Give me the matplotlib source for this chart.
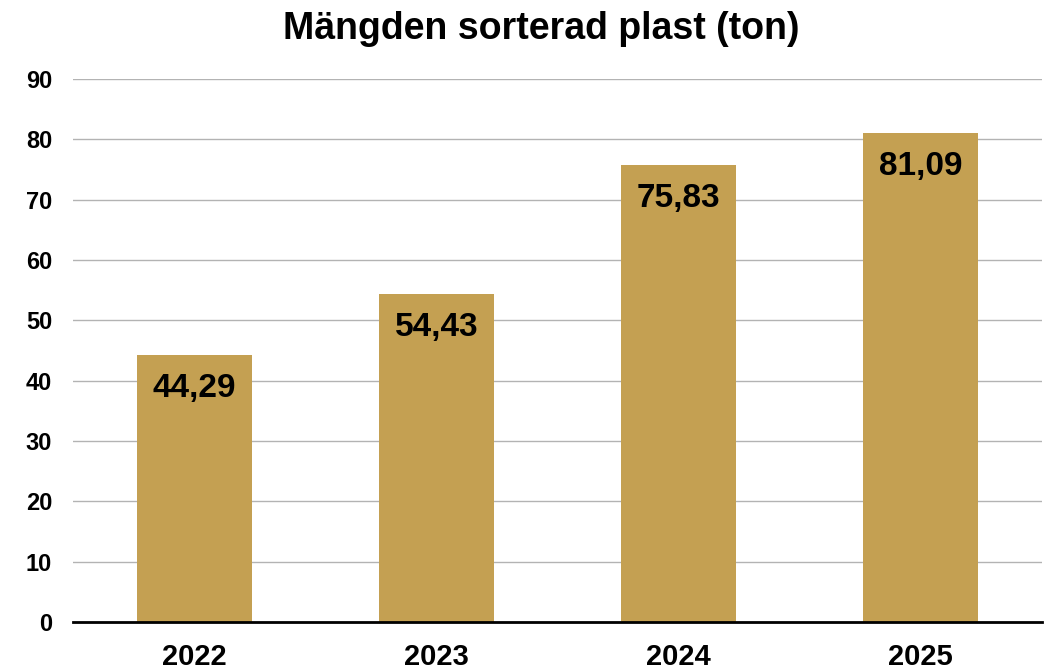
import numpy as np
import matplotlib.pyplot as plt

plt.rcParams['font.family'] = ['Liberation Sans', 'DejaVu Sans']

years = ["2022", "2023", "2024", "2025"]
amounts = [44.29, 54.43, 75.83, 81.09]
labels = ["44,29", "54,43", "75,83", "81,09"]

fig = plt.figure(figsize=(10.48, 6.70), dpi=100)
ax = fig.add_axes([0.0697, 0.0716, 0.9243, 0.8104])

x = np.arange(len(years))
bars = ax.bar(x, amounts, width=0.475, color="#C4A052", zorder=3)

for b, lab in zip(bars, labels):
    ax.annotate(lab, (b.get_x() + b.get_width() / 2, b.get_height()),
                xytext=(0, -13), textcoords="offset points",
                ha="center", va="top", fontsize=24, fontweight="bold", zorder=4)

ax.set_xlim(-0.5, len(years) - 0.5)
ax.set_ylim(0, 90)
ax.set_yticks(np.arange(0, 91, 10))
ax.set_xticks(x)
ax.set_xticklabels(years, fontsize=21, fontweight="bold")
for t in ax.get_yticklabels():
    t.set_fontsize(17)
    t.set_fontweight("bold")
ax.tick_params(axis="both", length=0)
ax.tick_params(axis="y", pad=15)
ax.tick_params(axis="x", pad=15)
ax.grid(axis="y", color="#b3b3b3", lw=1, zorder=0)
for s in ["top", "right", "left"]:
    ax.spines[s].set_visible(False)
ax.spines["bottom"].set_linewidth(2)
ax.spines["bottom"].set_zorder(5)

fig.text(0.516, 0.957, "Mängden sorterad plast (ton)", ha="center", va="center",
         fontsize=27, fontweight="bold")

plt.savefig("out.png", dpi=100)
